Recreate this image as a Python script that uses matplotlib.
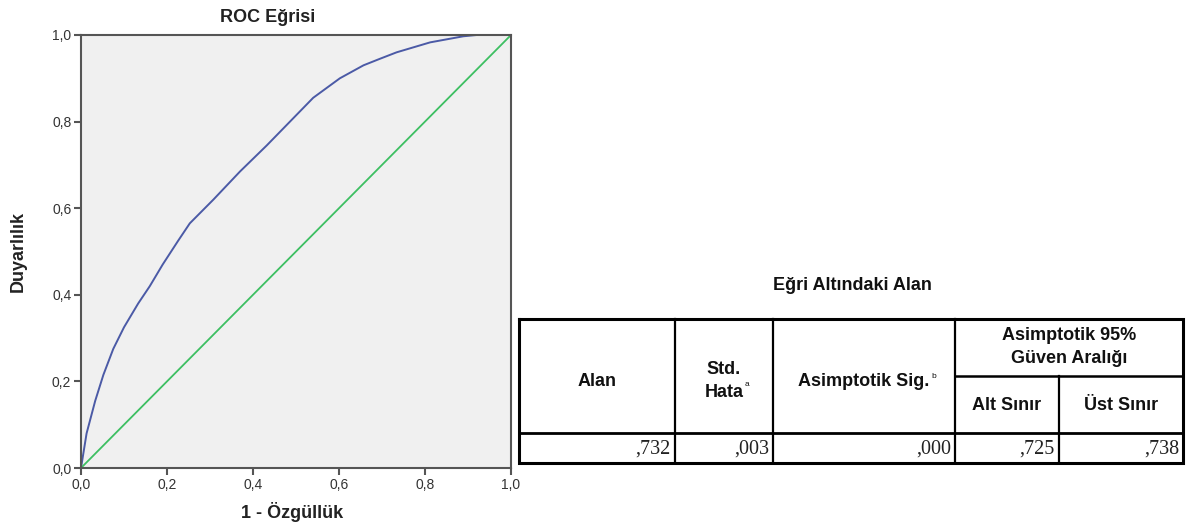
import numpy as np
import matplotlib
matplotlib.use('Agg')
import matplotlib.pyplot as plt

# ROC curve
fpr = [0.0, 0.013, 0.033, 0.052, 0.075, 0.1, 0.133, 0.16, 0.19, 0.226, 0.253,
       0.308, 0.37, 0.432, 0.486, 0.54, 0.602, 0.657, 0.695, 0.734, 0.812, 0.889,
       0.92, 1.0]
tpr = [0.0, 0.08, 0.155, 0.215, 0.275, 0.325, 0.38, 0.42, 0.47, 0.525, 0.565,
       0.62, 0.685, 0.745, 0.80, 0.855, 0.90, 0.93, 0.945, 0.96, 0.983, 0.997,
       1.0, 1.0]
ref_line = [0.0, 1.0]
ticks = [0.0, 0.2, 0.4, 0.6, 0.8, 1.0]
tick_labels = ['0,0', '0,2', '0,4', '0,6', '0,8', '1,0']

# area under curve table
tbl_title = 'Eğri Altındaki Alan'
col_heads = ['Alan', 'Std.\nHata', 'Asimptotik Sig.']
col_sups = ['', 'a', 'b']
ci_head = 'Asimptotik 95%\nGüven Aralığı'
ci_subs = ['Alt Sınır', 'Üst Sınır']
row_vals = [',732', ',003', ',000', ',725', ',738']

W, H = 1186, 527
plt.rcParams['font.family'] = ['Liberation Sans', 'DejaVu Sans']
fig = plt.figure(figsize=(W / 100, H / 100), dpi=100)
fig.patch.set_facecolor('white')

def fx(px):
    return px / W

def fy(py):
    return 1 - py / H

# --- ROC plot ---
L, R, T, B = 81, 511, 35, 468
ax = fig.add_axes([fx(L), fy(B), (R - L) / W, (B - T) / H])
ax.set_facecolor('#f0f0f0')
ax.plot(fpr, tpr, color='#4b5aa6', lw=1.4, solid_joinstyle='round')
ax.plot(ref_line, ref_line, color='#3dbf62', lw=1.3)
ax.set_xlim(0, 1)
ax.set_ylim(0, 1)
ax.set_xticks(ticks)
ax.set_xticklabels(tick_labels)
ax.set_yticks(ticks)
ax.set_yticklabels(tick_labels)
ax.tick_params(direction='out', length=5, width=1.5, colors='#555555',
               labelcolor='#333333', labelsize=10, pad=2)
for sp in ax.spines.values():
    sp.set_color('#555555')
    sp.set_linewidth(1.5)

fig.text(fx(268), fy(17), 'ROC Eğrisi', ha='center', va='center',
         fontsize=13, fontweight='bold', color='#222222')
fig.text(fx(292), fy(512), '1 - Özgüllük', ha='center', va='center',
         fontsize=13, fontweight='bold', color='#222222')
fig.text(fx(18), fy(251), 'Duyarlılık', ha='center', va='center', rotation=90,
         fontsize=13, fontweight='bold', color='#222222')

# --- table, drawn in pixel space ---
tb = fig.add_axes([0, 0, 1, 1], zorder=5)
tb.set_xlim(0, W)
tb.set_ylim(H, 0)
tb.axis('off')
tb.patch.set_alpha(0)

xs = [519, 675, 773, 955, 1059, 1183]
y_top, y_sub, y_hdr, y_bot = 319, 376, 433, 463

tb.plot([xs[0], xs[-1], xs[-1], xs[0], xs[0]], [y_top, y_top, y_bot, y_bot, y_top],
        color='black', lw=2.2, solid_joinstyle='miter')
tb.plot([xs[0], xs[-1]], [y_hdr, y_hdr], color='black', lw=2)
tb.plot([xs[3], xs[-1]], [y_sub, y_sub], color='black', lw=1.8)
for i, x in enumerate(xs[1:-1]):
    y0 = y_sub if i == 3 else y_top
    tb.plot([x, x], [y0, y_bot], color='black', lw=1.6)

tb.text(852, 286, tbl_title, ha='center', va='center', fontsize=13,
        fontweight='bold', color='#111111')

for i, (h, s) in enumerate(zip(col_heads, col_sups)):
    cx = (xs[i] + xs[i + 1]) / 2
    t = tb.text(cx, 381, h, ha='center', va='center', fontsize=13,
                fontweight='bold', color='#111111', linespacing=1.4)
    if s:
        yfrac = 0.5 if '\n' in h else 0.95
        tb.annotate(s, xy=(1, yfrac), xycoords=t, xytext=(1, 0),
                    textcoords='offset points', ha='left', va='top',
                    fontsize=6, color='#111111')

tb.text((xs[3] + xs[5]) / 2, 347, ci_head, ha='center', va='center', fontsize=13,
        fontweight='bold', color='#111111', linespacing=1.4)
for i, s in enumerate(ci_subs):
    tb.text((xs[3 + i] + xs[4 + i]) / 2, 406, s, ha='center', va='center',
            fontsize=13, fontweight='bold', color='#111111')

for i, v in enumerate(row_vals):
    tb.text(xs[i + 1] - 4, 449, v, ha='right', va='center', fontsize=14.5,
            family='Liberation Serif', color='#222222')

fig.savefig('out.png', dpi=100)
